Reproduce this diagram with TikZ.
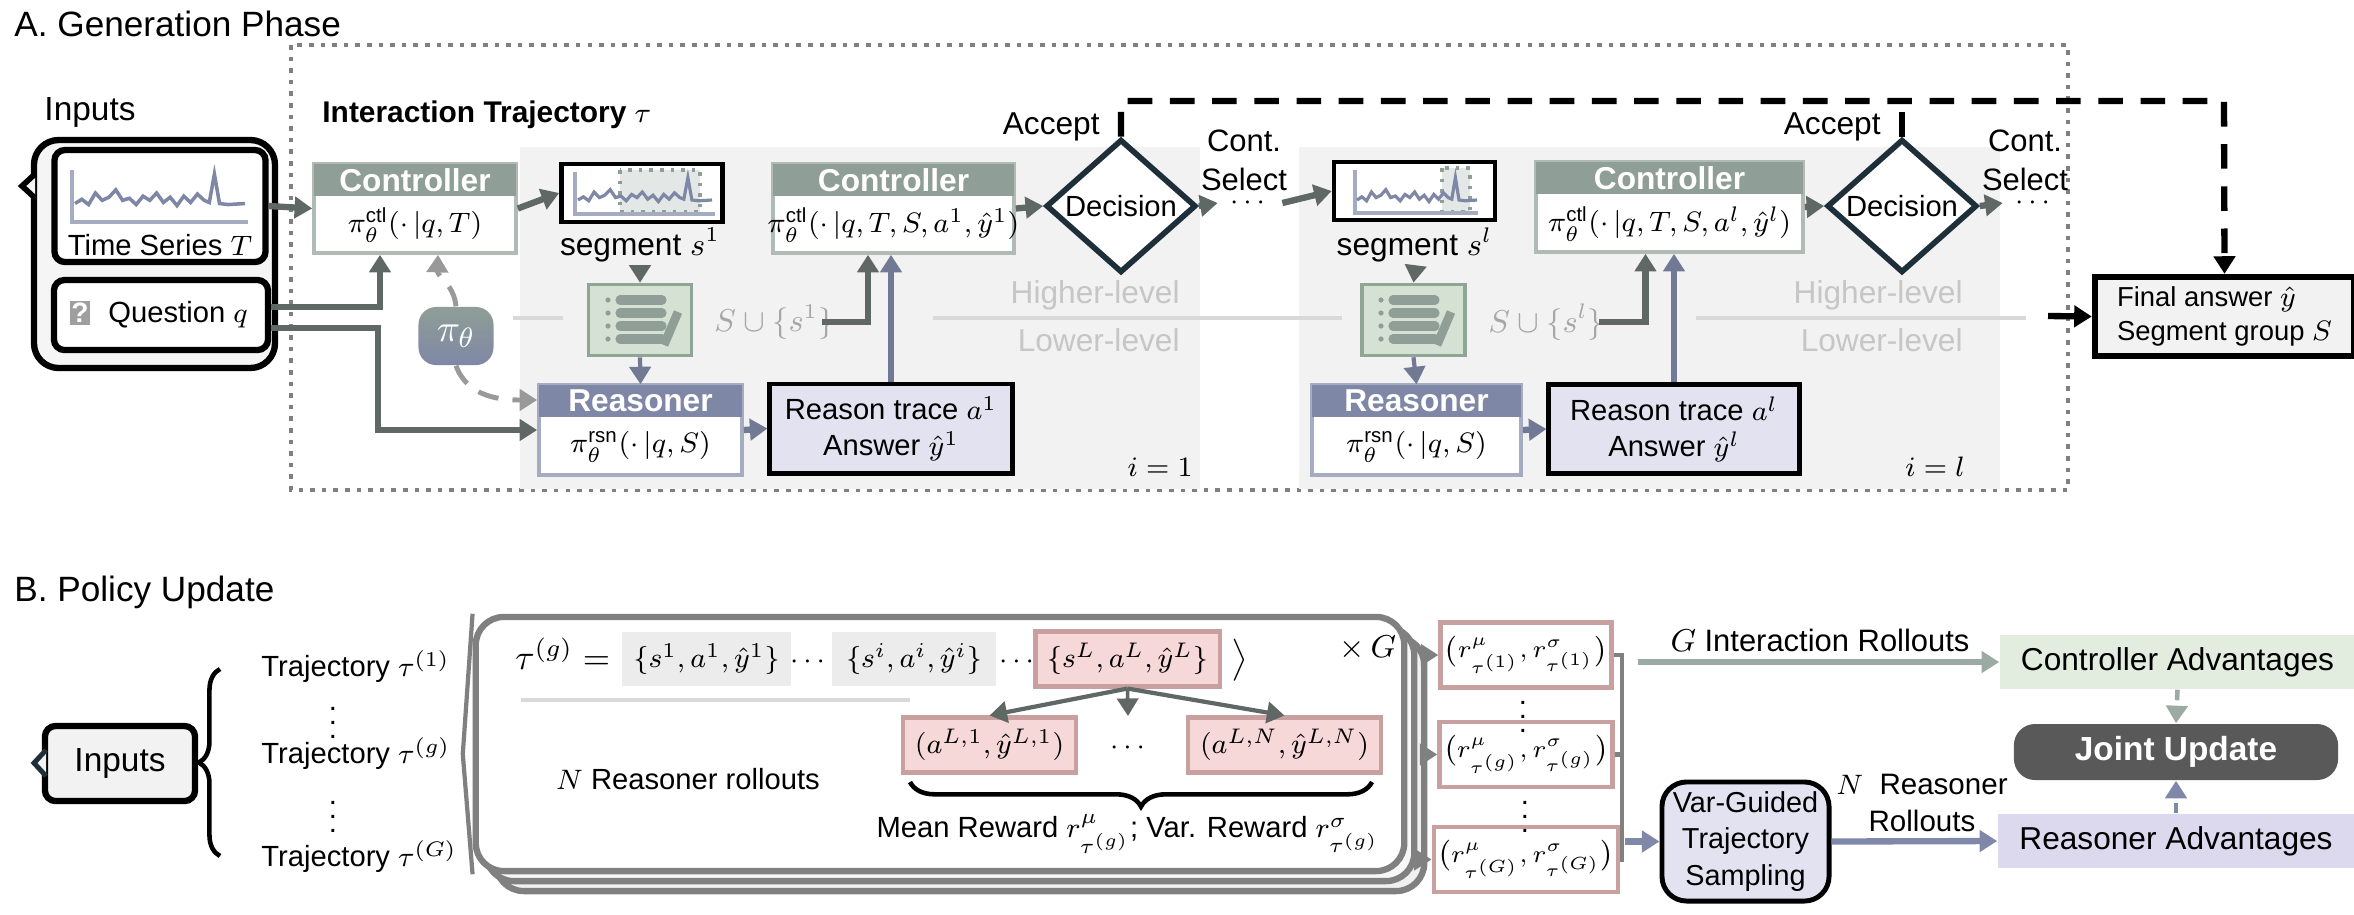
\documentclass[tikz,border=0pt]{standalone}
\usepackage{fontspec}
\setmainfont{Liberation Sans}
\usepackage{amsmath}
\usepackage{amssymb}
\usepackage{xcolor}
\usepackage{tikz}
\usetikzlibrary{arrows.meta,shapes.geometric,decorations.pathreplacing,positioning}

\definecolor{ctlgray}{HTML}{8F9E96}
\definecolor{rsnblue}{HTML}{7F87A6}
\definecolor{lav}{HTML}{E3E2F0}
\definecolor{notegreen}{HTML}{D5E2D3}
\definecolor{noteedge}{HTML}{8FA595}
\definecolor{panelgray}{HTML}{F2F2F2}
\definecolor{arrowgray}{HTML}{5F6864}
\definecolor{pinkfill}{HTML}{F6D8D8}
\definecolor{pinkedge}{HTML}{C9A0A0}
\definecolor{ctladv}{HTML}{E3EDDF}
\definecolor{rsnadv}{HTML}{DCD9EF}
\definecolor{jointgray}{HTML}{595959}
\definecolor{decedge}{HTML}{1F2F3A}
\definecolor{lavarrow}{HTML}{8088AA}
\definecolor{grnarrow}{HTML}{9BAAA2}

\tikzset{
  body/.style={rectangle, draw=ctlgray!70, line width=1pt, fill=white, inner sep=0pt},
  ctlhead/.style={rectangle, fill=ctlgray, text=white, inner sep=0pt,
                  font=\fontsize{9}{10}\selectfont\bfseries},
  rsnhead/.style={ctlhead, fill=rsnblue},
  trace/.style={rectangle, draw=black, line width=1.4pt, fill=lav, align=center,
                minimum width=2.42cm, minimum height=0.89cm},
  note/.style={rectangle, draw=noteedge, line width=1pt, fill=notegreen,
               minimum width=1.03cm, minimum height=0.71cm},
  decision/.style={diamond, draw=decedge, line width=1.6pt, fill=white, inner sep=0pt,
                   minimum width=1.5cm, minimum height=0.98cm},
  flow/.style={->, line width=1.8pt, draw=arrowgray},
  thin flow/.style={->, line width=1.2pt, draw=arrowgray},
  pidash/.style={->, line width=1.4pt, draw=gray!80, dash pattern=on 6pt off 4pt},
  level/.style={draw=gray!30, line width=1pt},
  leveltext/.style={text=gray!45, font=\fontsize{9}{10}\selectfont},
  imgbox/.style={rectangle, draw=black, line width=1.3pt, fill=white,
                 minimum width=1.61cm, minimum height=0.58cm},
  seltrace/.style={rectangle, fill=gray!15, minimum width=1.63cm, minimum height=0.48cm},
  pinkbox/.style={rectangle, fill=pinkfill, draw=pinkedge, line width=1.2pt},
  reward/.style={rectangle, fill=white, draw=pinkedge, line width=1.2pt, inner sep=1pt,
                 minimum width=1.42cm, minimum height=0.65cm, font=\fontsize{7.3}{9}\selectfont},
  card/.style={rectangle, rounded corners=8pt, draw=gray, line width=1.8pt,
               minimum width=9.28cm, minimum height=2.54cm},
  adv/.style={rectangle, minimum width=3.55cm, minimum height=0.54cm,
              font=\fontsize{9}{10}\selectfont}
}

\begin{document}
\begin{tikzpicture}[x=0.01cm, y=-0.01cm, >={Triangle[length=5pt,width=6pt]},
                    every node/.style={font=\fontsize{8.3}{10}\selectfont}]
\useasboundingbox (0,0) rectangle (2354,914);

%% A. generation phase
\node[anchor=west, font=\fontsize{10}{12}\selectfont] at (2,24) {A. Generation Phase};
\draw[dotted, line width=1.3pt, gray] (291,45) rectangle (2068,490);
\node[anchor=west, font=\fontsize{8.5}{10}\selectfont\bfseries] at (310,115)
  {Interaction Trajectory $\tau$};
\fill[panelgray] (520,147) rectangle (1200,489);
\fill[panelgray] (1299,147) rectangle (2000,489);

% inputs
\node[font=\fontsize{9.5}{11}\selectfont] at (90,112) {Inputs};
\draw[line width=1.8pt, rounded corners=7pt, fill=gray!8] (34,140) rectangle (275,368);
\draw[line width=1.6pt, line join=miter, fill=gray!8] (35,174) -- (22,186) -- (35,198);
\node[rectangle, draw, line width=1.8pt, rounded corners=3pt, fill=white,
      minimum width=2.11cm, minimum height=1.12cm] (ts) at (160,206) {};
\node at (160,245) {Time Series $T$};
\draw[line width=1.2pt, rsnblue!70] (72,170) -- (72,222) -- (248,222);
\begin{scope}[shift={(75,172)}, xscale=1.7, yscale=1.05]
  \draw[line width=1pt, rsnblue] plot coordinates {(0,30)(4,26)(8,31)(12,20)(16,27)(20,24)(24,17)(28,27)(32,25)(36,31)(40,23)(44,27)(48,20)(52,29)(56,24)(60,32)(64,23)(68,29)(72,21)(76,27)(79,29)(82,2)(85,30)(90,31)(100,30)};
\end{scope}
\node[rectangle, draw, line width=1.8pt, rounded corners=3pt, fill=white,
      minimum width=2.14cm, minimum height=0.7cm] (qn) at (161,315) {};
\node[rectangle, fill=gray!75, text=white, inner sep=0pt, minimum width=0.2cm,
      minimum height=0.24cm, font=\fontsize{8}{9}\selectfont\bfseries] (qmark) at (80,313) {?};
\node[anchor=west] at (96,315) {Question $q$};

% controller 1
\node[body, minimum width=2.02cm, minimum height=0.89cm] (ctlA) at (415,208.5) {};
\node[ctlhead, minimum width=2.02cm, minimum height=0.32cm] (ctlAh) at (415,180) {Controller};
\node at (415,225) {$\pi_\theta^{\mathrm{ctl}}(\cdot\,|q,T)$};

% policy
\node[rectangle, rounded corners=5pt, top color=ctlgray, bottom color=rsnblue, text=white,
      minimum width=0.75cm, minimum height=0.58cm, font=\fontsize{11}{12}\selectfont] (pi) at (456,336) {$\pi_\theta$};

% segment 1
\node[imgbox] (segA) at (642,193) {};
\fill[ctlgray!25] (620,170) rectangle (700,212);
\draw[dotted, line width=1pt, ctlgray] (620,170) rectangle (700,212);
\draw[line width=1.1pt, rsnblue!70] (575,172) -- (575,214) -- (715,214);
\begin{scope}[shift={(578,176)}, xscale=1.34, yscale=0.8]
  \draw[line width=0.9pt, rsnblue] plot coordinates {(0,30)(4,26)(8,31)(12,20)(16,27)(20,24)(24,17)(28,27)(32,25)(36,31)(40,23)(44,27)(48,20)(52,29)(56,24)(60,32)(64,23)(68,29)(72,21)(76,27)(79,29)(82,2)(85,30)(90,31)(100,30)};
\end{scope}
\node[font=\fontsize{9}{10}\selectfont] (segAl) at (640,245) {segment $s^1$};

\node[note] (noteA) at (640,320) {};
\foreach \yy in {300,313,326,339} {
  \fill[ctlgray] (608,\yy) circle (2.6);
  \draw[line width=2.6pt, ctlgray, line cap=round] (620,\yy) -- (662,\yy);
}
\draw[line width=2.5pt, ctlgray] (678,312) -- (664,345);
\node[anchor=west, text=gray!70, font=\fontsize{9}{10}\selectfont] at (702,322) {$S\cup\{s^1\}$};
\coordinate (unA) at (822,322);
\draw[level] (513,318) -- (563,318);
\draw[level] (933,318) -- (1200,318);
\node[leveltext, anchor=east] at (1192,295) {Higher-level};
\node[leveltext, anchor=east] at (1192,340) {Lower-level};

% reasoner 1
\node[body, draw=rsnblue!70, minimum width=2.03cm, minimum height=0.9cm] (rsnA) at (640.5,430) {};
\node[rsnhead, minimum width=2.03cm, minimum height=0.32cm] (rsnAh) at (640.5,401) {Reasoner};
\node at (640.5,447) {$\pi_\theta^{\mathrm{rsn}}(\cdot\,|q,S)$};
\node[trace] (traceA) at (891,428.5) {Reason trace $a^1$\\Answer $\hat y^1$};

% controller 2
\node[body, minimum width=2.41cm, minimum height=0.89cm] (ctlB) at (893.5,208.5) {};
\node[ctlhead, minimum width=2.41cm, minimum height=0.32cm] (ctlBh) at (893.5,180) {Controller};
\node at (893.5,225) {$\pi_\theta^{\mathrm{ctl}}(\cdot\,|q,T,S,a^1,\hat y^1)$};
\node[decision] (decA) at (1121,206) {Decision};
\node[font=\fontsize{9}{10}\selectfont, anchor=east] at (1112,127) {Accept};
\node[align=center, font=\fontsize{8.8}{11}\selectfont] at (1244,160) {Cont.\\Select};
\node (dotA) at (1250,203) {$\cdots$};
\node at (1160,467) {$i=1$};

% panel l
\node[imgbox] (segB) at (1414.5,191) {};
\fill[ctlgray!25] (1442,168) rectangle (1470,212);
\draw[dotted, line width=1pt, ctlgray] (1442,168) rectangle (1470,212);
\draw[line width=1.1pt, rsnblue!70] (1355,170) -- (1355,213) -- (1478,213);
\begin{scope}[shift={(1357,176)}, xscale=1.2, yscale=0.8]
  \draw[line width=0.9pt, rsnblue] plot coordinates {(0,30)(4,26)(8,31)(12,20)(16,27)(20,24)(24,17)(28,27)(32,25)(36,31)(40,23)(44,27)(48,20)(52,29)(56,24)(60,32)(64,23)(68,29)(72,21)(76,27)(79,29)(82,2)(85,30)(90,31)(100,30)};
\end{scope}
\node[font=\fontsize{9}{10}\selectfont] (segBl) at (1414.5,245) {segment $s^l$};

\node[note] (noteB) at (1413.5,320) {};
\foreach \yy in {300,313,326,339} {
  \fill[ctlgray] (1381,\yy) circle (2.6);
  \draw[line width=2.6pt, ctlgray, line cap=round] (1393,\yy) -- (1435,\yy);
}
\draw[line width=2.5pt, ctlgray] (1451,312) -- (1437,345);
\node[anchor=west, text=gray!70, font=\fontsize{9}{10}\selectfont] at (1476,322) {$S\cup\{s^l\}$};
\coordinate (unB) at (1599,322);
\draw[level] (1200,318) -- (1342,318);
\draw[level] (1696,318) -- (2026,318);
\node[leveltext, anchor=east] at (1975,295) {Higher-level};
\node[leveltext, anchor=east] at (1975,340) {Lower-level};

\node[body, draw=rsnblue!70, minimum width=2.09cm, minimum height=0.9cm] (rsnB) at (1416.5,430) {};
\node[rsnhead, minimum width=2.09cm, minimum height=0.32cm] (rsnBh) at (1416.5,401) {Reasoner};
\node at (1416.5,447) {$\pi_\theta^{\mathrm{rsn}}(\cdot\,|q,S)$};
\node[trace, minimum width=2.5cm] (traceB) at (1674,429) {Reason trace $a^l$\\Answer $\hat y^l$};

\node[body, minimum width=2.67cm, minimum height=0.9cm] (ctlC) at (1669.5,207) {};
\node[ctlhead, minimum width=2.67cm, minimum height=0.32cm] (ctlCh) at (1669.5,178) {Controller};
\node at (1669.5,224) {$\pi_\theta^{\mathrm{ctl}}(\cdot\,|q,T,S,a^l,\hat y^l)$};
\node[decision] (decC) at (1902,206) {Decision};
\node[font=\fontsize{9}{10}\selectfont, anchor=east] at (1893,127) {Accept};
\node[align=center, font=\fontsize{8.8}{11}\selectfont] at (2025,160) {Cont.\\Select};
\node (dotC) at (2035,203) {$\cdots$};
\node at (1935,467) {$i=l$};

\node[rectangle, draw, line width=1.8pt, fill=gray!10, align=left, inner sep=2pt,
      minimum width=2.59cm, minimum height=0.79cm, font=\fontsize{7.8}{9.5}\selectfont] (final) at (2224.5,316.5)
      {Final answer $\hat y$\\Segment group $S$};
\coordinate (acc) at (2224,101);
\coordinate (fin) at (2048,316);

% connectors of part A
\draw[flow] (ts.east) -- (ctlA.west);
\draw[flow] ([yshift=0.08cm]qn.east) -| ([xshift=-0.35cm]ctlA.south);
\draw[flow] ([yshift=-0.13cm]qn.east) -| ([xshift=-1.59cm]rsnA.west) -- (rsnA.west);
\draw[pidash] (pi.north) to[out=95,in=-92] ([xshift=0.23cm]ctlA.south);
\draw[pidash] (pi.south) to[out=-70,in=180] ([yshift=0.3cm]rsnA.west);
\draw[flow] (ctlA.east) -- (segA.west);
\draw[thin flow] (segAl.south) -- (noteA.north);
\draw[thin flow, draw=rsnblue!90!black] (noteA.south) -- (rsnAh.north);
\draw[flow] (unA) -| ([xshift=-0.255cm]ctlB.south);
\draw[flow, draw=rsnblue!90!black] (traceA.north) -- (traceA.north |- ctlB.south);
\draw[flow, draw=rsnblue!90!black] (rsnA.east) -- (traceA.west);
\draw[flow] (ctlB.east) -- (decA.west);
\draw[flow] (decA.east) -- (dotA.west);
\draw[flow] (dotA.east) -- (segB.west);
\draw[thin flow] (segBl.south) -- (noteB.north);
\draw[thin flow, draw=rsnblue!90!black] (noteB.south) -- (rsnBh.north);
\draw[flow] (unB) -| ([xshift=-0.24cm]ctlC.south);
\draw[flow, draw=rsnblue!90!black] (traceB.north) -- (traceB.north |- ctlC.south);
\draw[flow, draw=rsnblue!90!black] (rsnB.east) -- (traceB.west);
\draw[flow] (ctlC.east) -- (decC.west);
\draw[flow] (decC.east) -- (dotC.west);
\draw[->, line width=1.8pt, dash pattern=on 7pt off 5pt] (decA.north) |- (acc) -- (final.north);
\draw[line width=1.8pt, dash pattern=on 7pt off 5pt] (decC.north) -- (decC.north |- acc);
\draw[->, line width=1.8pt] (fin) -- (final.west);

%% B. policy update
\node[anchor=west, font=\fontsize{10}{12}\selectfont] at (2,592) {B. Policy Update};
\node[rectangle, draw, line width=1.8pt, rounded corners=3pt, fill=gray!10,
      minimum width=1.5cm, minimum height=0.75cm, font=\fontsize{9.5}{11}\selectfont] (inB) at (120,763.5) {Inputs};
\draw[line width=1.4pt, decedge, fill=gray!10, line join=miter] (46,750) -- (34,763) -- (46,776);
\draw[decorate, decoration={brace, amplitude=6pt}, line width=1.3pt] (220,856) -- (220,669);
\node[anchor=west] (tr1) at (249,667) {Trajectory $\tau^{(1)}$};
\node[anchor=west] (trg) at (249,754) {Trajectory $\tau^{(g)}$};
\node[anchor=west] (trG) at (249,857) {Trajectory $\tau^{(G)}$};
\node at (333,712) {$\vdots$};
\node at (333,806) {$\vdots$};

\node[card, fill=gray!12] (cardC) at (960,764) {};
\node[card, fill=gray!6] (cardB) at (950,754) {};
\node[card, fill=white] (card) at (940,744) {};
\draw[gray, line width=1.2pt] (trg.east) -- (card.north west);
\draw[gray, line width=1.2pt] (trg.east) -- (card.south west);

\node[anchor=west, font=\fontsize{10}{12}\selectfont] at (503,660) {$\tau^{(g)}=\big\langle$};
\node[seltrace] (gA) at (706.5,659) {$\{s^1,a^1,\hat y^1\}$};
\node at (810,662) {$\cdots$};
\node[seltrace, minimum width=1.64cm] (gB) at (914,659) {$\{s^i,a^i,\hat y^i\}$};
\node at (1019,662) {$\cdots$};
\node[pinkbox, minimum width=1.81cm, minimum height=0.53cm] (gL) at (1127.5,659) {$\{s^L,a^L,\hat y^L\}$};
\node[font=\fontsize{10}{12}\selectfont] at (1240,660) {$\big\rangle$};
\node[font=\fontsize{9.5}{11}\selectfont] at (1368,648) {$\times\, G$};
\draw[gray!30, line width=1pt] (521,700) -- (910,700);

\node[pinkbox, minimum width=1.59cm, minimum height=0.5cm] (rA) at (989.5,745) {$(a^{L,1},\hat y^{L,1})$};
\node[pinkbox, minimum width=1.81cm, minimum height=0.5cm] (rB) at (1284.5,745) {$(a^{L,N},\hat y^{L,N})$};
\node (rdot) at (1130,748) {$\cdots$};
\coordinate (rmid) at (1128,716);
\draw[thin flow] (gL.south) -- (rA.north);
\draw[thin flow] (gL.south) -- (rB.north);
\draw[->, line width=1pt, draw=arrowgray] (gL.south) -- (rmid);
\draw[decorate, decoration={brace, amplitude=7pt}, line width=1.3pt] (1372,782) -- (910,782);
\node at (1128,834) {Mean Reward $r^{\mu}_{\tau^{(g)}}$; Var. Reward $r^{\sigma}_{\tau^{(g)}}$};
\node at (688,779) {$N$ Reasoner rollouts};

\node[reward] (rw1) at (1526,655) {$\bigl(r^{\mu}_{\tau^{(1)}},r^{\sigma}_{\tau^{(1)}}\bigr)$};
\node[reward] (rw2) at (1526,754.5) {$\bigl(r^{\mu}_{\tau^{(g)}},r^{\sigma}_{\tau^{(g)}}\bigr)$};
\node[reward] (rw3) at (1526,859.5) {$\bigl(r^{\mu}_{\tau^{(G)}},r^{\sigma}_{\tau^{(G)}}\bigr)$};
\node at (1523,706) {$\vdots$};
\node at (1525,806) {$\vdots$};
\foreach \r in {rw1,rw2,rw3}
  \draw[->, line width=1.6pt, draw=gray] (cardC.east |- \r.west) -- (\r.west);
\coordinate (bk) at (1622,0);
\draw[gray, line width=1.4pt] (rw1.east) -- (rw1.east -| bk) -- (rw3.east -| bk) -- (rw3.east);
\draw[gray, line width=1.4pt] (rw2.east) -- (rw2.east -| bk);

\node[rectangle, rounded corners=7pt, draw, line width=1.4pt, fill=lav, align=center,
      minimum width=1.67cm, minimum height=1.19cm, inner sep=1pt,
      font=\fontsize{8.2}{10.5}\selectfont] (vg) at (1745.5,841.5) {Var-Guided\\Trajectory\\Sampling};
\node[adv, fill=ctladv] (cadv) at (2177.5,662) {Controller Advantages};
\node[adv, fill=rsnadv, minimum width=3.56cm] (radv) at (2176,841) {Reasoner Advantages};
\node[rectangle, rounded corners=6pt, fill=jointgray, text=white, minimum width=3.24cm,
      minimum height=0.56cm, font=\fontsize{9.5}{11}\selectfont\bfseries] (joint) at (2176,752) {Joint Update};

\draw[->, line width=1.8pt, draw=lavarrow] ([xshift=-0.34cm]vg.west) -- (vg.west);
\draw[->, line width=1.8pt, draw=lavarrow] (vg.east) -- (radv.west);
\draw[->, line width=1.8pt, draw=grnarrow] ([xshift=-3.61cm]cadv.west) -- (cadv.west);
\node[font=\fontsize{8.8}{10}\selectfont] at (1820,640) {$G$ Interaction Rollouts};
\node[align=center, font=\fontsize{8.4}{10.5}\selectfont] at (1922,803) {$N$\; Reasoner\\Rollouts};
\draw[->, line width=1.3pt, draw=grnarrow, dash pattern=on 3pt off 2pt] (cadv.south) -- (joint.north);
\draw[->, line width=1.3pt, draw=lavarrow, dash pattern=on 3pt off 2pt] (radv.north) -- (joint.south);
\end{tikzpicture}
\end{document}
